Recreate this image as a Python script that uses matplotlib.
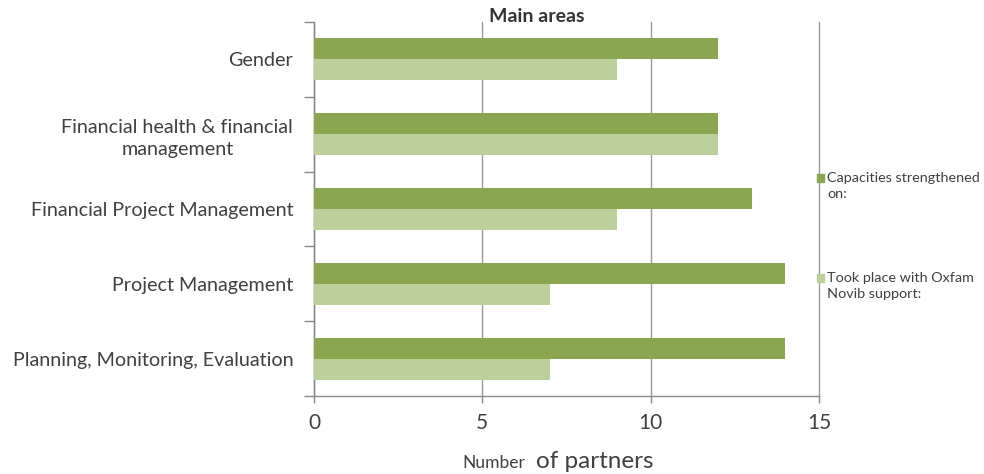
import matplotlib
matplotlib.use("Agg")
import matplotlib.pyplot as plt
import numpy as np
from matplotlib.patches import Rectangle

categories = ["Gender", "Financial health & financial\nmanagement",
              "Financial Project Management", "Project Management",
              "Planning, Monitoring, Evaluation"]
strengthened = [12, 12, 13, 14, 14]
oxfam_support = [9, 12, 9, 7, 7]
series_labels = ["Capacities strengthened\non:", "Took place with Oxfam\nNovib support:"]
x_ticks = [0, 5, 10, 15]

dark = "#8AA64E"
light = "#BBD09A"
txt = "#404040"
font = "Lato"

plt.rcParams['font.family'] = [font, 'DejaVu Sans']

fig = plt.figure(figsize=(9.84, 4.74), dpi=100)
ax = fig.add_axes([314/984, 1-396/474, (819-314)/984, (396-22)/474])

y = np.arange(len(categories))
h = 0.28
ax.barh(y - h/2, strengthened, height=h, color=dark, zorder=3)
ax.barh(y + h/2, oxfam_support, height=h, color=light, zorder=3)

ax.set_xlim(0, 15)
ax.set_ylim(len(categories) - 0.5, -0.5)
ax.set_xticks(x_ticks)
ax.set_xticklabels([str(v) for v in x_ticks], fontsize=15, color=txt)
ax.set_yticks(y)
ax.set_yticklabels(categories, fontsize=14.2, color=txt, multialignment='center',
                   linespacing=1.35)
ax.set_yticks(np.arange(len(categories) + 1) - 0.5, minor=True)
ax.tick_params(axis='y', which='major', length=0, pad=15)
ax.tick_params(axis='y', which='minor', length=7, color="#888888", width=1)
ax.tick_params(axis='x', which='major', length=5, color="#888888", width=1, pad=7)

ax.grid(axis='x', color="#999999", linewidth=1, zorder=0)
for gl in ax.get_xgridlines():
    gl.set_clip_on(False)
for s in ['top', 'right']:
    ax.spines[s].set_visible(False)
for s in ['left', 'bottom']:
    ax.spines[s].set_color("#888888")
    ax.spines[s].set_linewidth(1)

fig.text(537/984, 1-16/474, "Main areas", ha='center', va='center',
         fontsize=14, fontweight='bold', color="#333333")

fig.text(525/984, 1-468/474, "Number", ha='right', va='baseline', fontsize=12.5, color=txt)
fig.text(536/984, 1-468/474, "of partners", ha='left', va='baseline', fontsize=17.5, color=txt)

# legend
leg_y = [178, 278]
for col, lab, yy in zip([dark, light], series_labels, leg_y):
    fig.patches.append(Rectangle((817/984, 1-(yy+4)/474), 7/984, 8/474,
                                 transform=fig.transFigure, color=col, zorder=5))
    fig.text(827/984, 1-(yy-6)/474, lab, ha='left', va='top', fontsize=10.4,
             color=txt, linespacing=1.35)

fig.savefig("out.png", dpi=100)
